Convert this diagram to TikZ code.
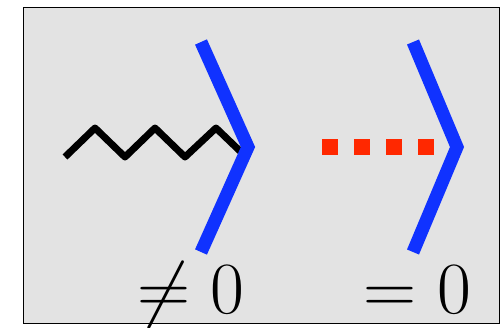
\documentclass[tikz,border=0pt]{standalone}
\usepackage{tikz}

\begin{document}
\begin{tikzpicture}[x=1bp,y=1bp,yscale=-1,xscale=1]
\tikzset{
  chevron/.style={color={rgb, 255:red, 16; green, 50; blue, 255 }, line width=13bp, line cap=butt, line join=miter},
  zigzag/.style={color={rgb, 255:red, 0; green, 0; blue, 0 }, line width=7bp, line join=round},
  ghostline/.style={color={rgb, 255:red, 255; green, 40; blue, 0 }, line width=16bp, dash pattern=on 16bp off 16bp},
  bigtext/.style={font=\Huge, scale=2.97, inner sep=0pt, anchor=base}
}
\useasboundingbox (0,0) rectangle (503,327);

%Shape: Rectangle
\draw [color={rgb, 255:red, 0; green, 0; blue, 0 }, line width=1.5bp][fill={rgb, 255:red, 227; green, 227; blue, 227 }] (23.5,7.5) rectangle (499.5,323.5) ;

%Straight Lines (wavy line)
\coordinate (waveEnd) at (241,152) ;
\draw [zigzag] (65,157) -- (95,128) -- (125,157) -- (155,128) -- (185,157) -- (216,128) -- (waveEnd) ;
%Shape: Polygon (left chevron)
\coordinate (tipA) at (248,147) ;
\draw [chevron] (201,42) -- (tipA) -- (201,252) ;

%Shape: Polygon (right chevron)
\coordinate (tipB) at (457,147) ;
\draw [chevron] (413,42) -- (tipB) -- (413,252) ;
%Straight Lines (dotted line)
\coordinate (dotL) at (322,147) ;
\draw [ghostline] (dotL) -- ++(120,0) ;

% Text Node
\node [bigtext] (neq) at (191,313) {$\neq 0$};
% Text Node
\node [bigtext] (eq) at (417.5,313) {$=0$};

\end{tikzpicture}
\end{document}
